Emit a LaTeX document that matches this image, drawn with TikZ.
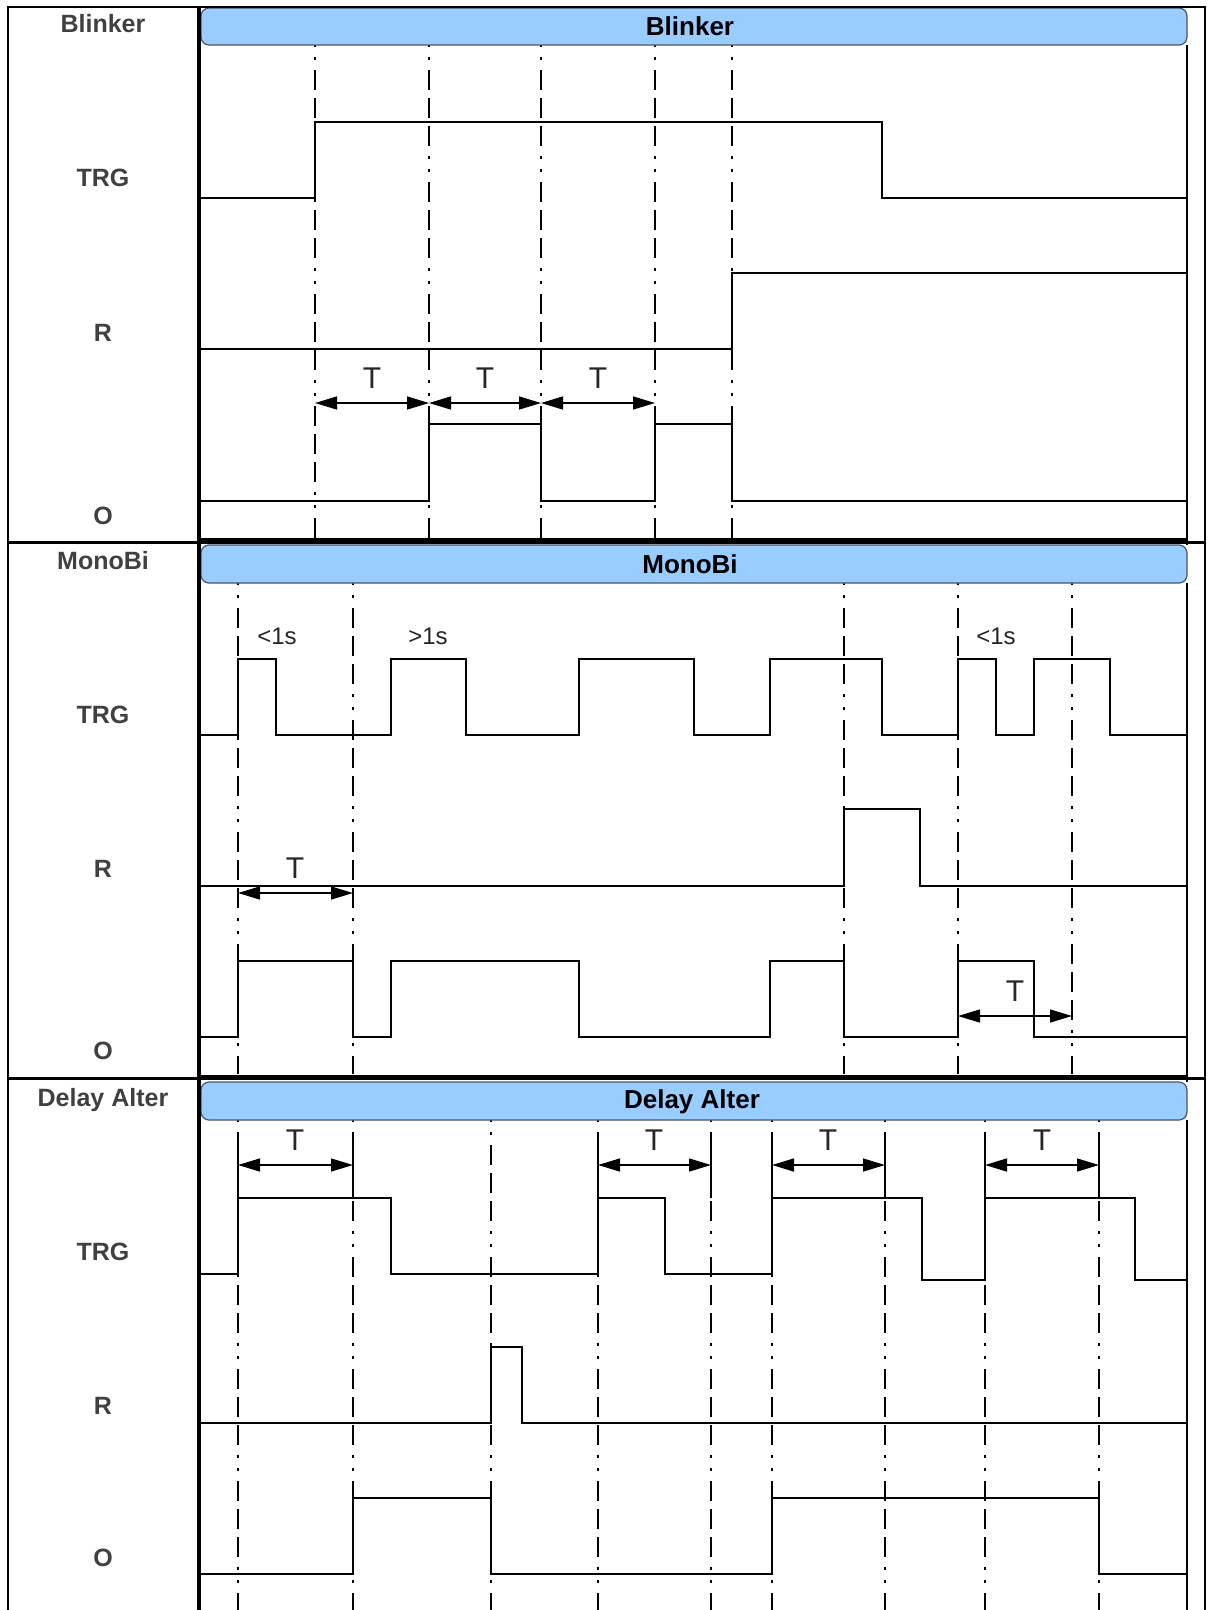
\documentclass[tikz,border=0pt]{standalone}
\usepackage{fontspec}
\setmainfont{Liberation Sans}
\definecolor{plcblue}{RGB}{153,204,255}
\definecolor{plcedge}{RGB}{75,85,100}
\definecolor{plcgray}{RGB}{64,64,64}
\usetikzlibrary{arrows.meta}

\begin{document}
\begin{tikzpicture}[
  x=1pt, y=-1pt,
  every node/.style={inner sep=0pt},
  rowlabel/.style={anchor=base,font=\fontsize{25}{28}\selectfont\bfseries,text=plcgray},
  bartitle/.style={anchor=base,font=\fontsize{26}{30}\selectfont\bfseries,text=black},
  barbox/.style={draw=plcedge,fill=plcblue,line width=1.2pt,rounded corners=8pt},
  sigline/.style={line width=1.5pt},
  guideline/.style={line width=1.4pt,dash pattern=on 20pt off 8pt on 20pt off 8pt on 20pt off 10pt on 3pt off 10pt on 3pt off 10pt,dash phase=87pt},
  spanarrow/.style={line width=1.4pt,{Triangle[length=22pt,width=13pt]}-{Triangle[length=22pt,width=13pt]}},
  tlabel/.style={anchor=base,font=\fontsize{30}{34}\selectfont,text=black!85},
  durlabel/.style={anchor=base,font=\fontsize{24}{28}\selectfont,text=black!85},
]
  \useasboundingbox (0,0) rectangle (1211,1610);
  \fill[white] (0,0) rectangle (1211,1610);

  % Blinker
  \foreach \x in {315,429,541,655,732}
    \draw[guideline] (\x,45) -- (\x,538);
  \draw[sigline] (201,198) -| (315,122) -| (882,198) -- (1187,198);
  \draw[sigline] (201,349) -| (732,273) -- (1187,273);
  \draw[sigline] (201,501) -| (429,424) -| (541,501) -| (655,424) -| (732,501) -- (1187,501);
  \draw[spanarrow] (315,403) -- (429,403);
  \draw[spanarrow] (429,403) -- (541,403);
  \draw[spanarrow] (541,403) -- (655,403);
  \node[tlabel] (bt1) at (372,388) {T};
  \node[tlabel] (bt2) at (485,388) {T};
  \node[tlabel] (bt3) at (598,388) {T};
  \draw[barbox] (201,8) rectangle (1187,45);
  \node[bartitle] (btitle) at (690,35) {Blinker};
  \node[rowlabel] (bname) at (103,32) {Blinker};
  \node[rowlabel] (btrg) at (103,186) {TRG};
  \node[rowlabel] (br) at (103,341) {R};
  \node[rowlabel] (bo) at (103,524) {O};

  % MonoBi
  \foreach \x in {238,353,844,958,1072}
    \draw[guideline] (\x,583) -- (\x,1074);
  \draw[sigline] (201,735) -| (238,659) -| (276,735) -| (391,659) -| (466,735) -| (579,659)
    -| (694,735) -| (770,659) -| (882,735) -| (958,659) -| (996,735) -| (1034,659)
    -| (1110,735) -- (1187,735);
  \draw[sigline] (201,886) -| (844,809) -| (920,886) -- (1187,886);
  \draw[sigline] (201,1037) -| (238,961) -| (353,1037) -| (391,961) -| (579,1037)
    -| (770,961) -| (844,1037) -| (958,961) -| (1034,1037) -- (1187,1037);
  \draw[spanarrow] (238,893) -- (353,893);
  \draw[spanarrow] (958,1016) -- (1072,1016);
  \node[tlabel] (mt1) at (295,878) {T};
  \node[tlabel] (mt2) at (1015,1001) {T};
  \node[durlabel] (md1) at (277,644) {<1s};
  \node[durlabel] (md2) at (428,644) {>1s};
  \node[durlabel] (md3) at (996,644) {<1s};
  \draw[barbox] (201,545) rectangle (1187,583);
  \node[bartitle] (mtitle) at (690,573) {MonoBi};
  \node[rowlabel] (mname) at (103,569) {MonoBi};
  \node[rowlabel] (mtrg) at (103,723) {TRG};
  \node[rowlabel] (mr) at (103,877) {R};
  \node[rowlabel] (mo) at (103,1059) {O};

  % Delay Alter
  \foreach \x in {238,353,491,598,711,772,885,985,1099}
    \draw[guideline] (\x,1120) -- (\x,1610);
  \foreach \x in {238,353,598,711,772,885,985,1099}
    \draw[sigline] (\x,1135) -- (\x,1198);
  \draw[sigline] (201,1274) -| (238,1198) -| (391,1274) -| (598,1198) -| (665,1274)
    -| (772,1198) -| (922,1280) -| (985,1198) -| (1135,1280) -- (1187,1280);
  \draw[sigline] (201,1423) -| (491,1347) -| (522,1423) -- (1187,1423);
  \draw[sigline] (201,1574) -| (353,1498) -| (491,1574) -| (772,1498) -| (1099,1574) -- (1187,1574);
  \draw[spanarrow] (238,1165) -- (353,1165);
  \draw[spanarrow] (598,1165) -- (711,1165);
  \draw[spanarrow] (772,1165) -- (885,1165);
  \draw[spanarrow] (985,1165) -- (1099,1165);
  \node[tlabel] (dt1) at (295,1150) {T};
  \node[tlabel] (dt2) at (654,1150) {T};
  \node[tlabel] (dt3) at (828,1150) {T};
  \node[tlabel] (dt4) at (1042,1150) {T};
  \draw[barbox] (201,1082) rectangle (1187,1120);
  \node[bartitle] (dtitle) at (692,1108) {Delay Alter};
  \node[rowlabel] (dname) at (103,1106) {Delay Alter};
  \node[rowlabel] (dtrg) at (103,1260) {TRG};
  \node[rowlabel] (dr) at (103,1414) {R};
  \node[rowlabel] (do) at (103,1566) {O};

  % table frame
  \draw[line width=1.5pt] (1187,45) -- (1187,545) (1187,583) -- (1187,1082) (1187,1120) -- (1187,1610);
  \draw[line width=2.5pt] (8,1610) -- (8,7) -- (1205,7) -- (1205,1610);
  \draw[line width=4.5pt] (199,7) -- (199,1610);
  \draw[line width=3pt] (8,542) -- (1205,542);
  \draw[line width=5pt] (199,540) -- (1187,540);
  \draw[line width=3pt] (8,1078) -- (1205,1078);
  \draw[line width=5pt] (199,1077) -- (1187,1077);
\end{tikzpicture}
\end{document}
